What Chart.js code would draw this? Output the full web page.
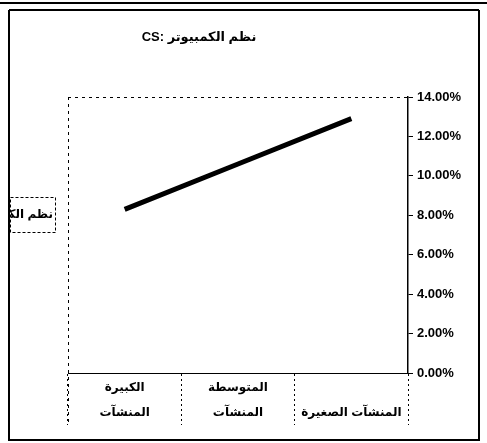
<!DOCTYPE html>
<html>
<head>
<meta charset="utf-8">
<script src="https://cdn.jsdelivr.net/npm/chart.js@4/dist/chart.umd.min.js"></script>
<style>
  html, body { margin: 0; padding: 0; background: #fff; }
  #wrap { position: relative; width: 487px; height: 443px; }
</style>
</head>
<body>
<div id="wrap"><canvas id="c" width="487" height="443"></canvas></div>
<script>
// ---- data ----
const chartTitlePrefix = 'CS:';
const seriesName = 'نظم الكمبيوتر';
const categories = ['المنشآت الصغيرة', 'المنشآت المتوسطة', 'المنشآت الكبيرة'];
const categoryLabelLines = [['', 'المنشآت الصغيرة'], ['المتوسطة', 'المنشآت'], ['الكبيرة', 'المنشآت']];
const seriesValues = [12.9, 10.6, 8.3];
const yTickMin = 0;
const yTickMax = 14;
const yTickStep = 2;

const FONT = "'Liberation Sans', Arial, 'DejaVu Sans', sans-serif";

const decor = {
  id: 'decor',
  afterDraw(chart) {
    const ctx = chart.ctx;
    const a = chart.chartArea;
    const xs = chart.scales.x;
    ctx.save();
    // outer frame
    ctx.strokeStyle = '#000';
    ctx.lineWidth = 2;
    ctx.beginPath();
    ctx.moveTo(0, 3); ctx.lineTo(487, 3);
    ctx.moveTo(9, 10); ctx.lineTo(479, 10);
    ctx.moveTo(9, 10); ctx.lineTo(9, 440);
    ctx.lineTo(479, 440);
    ctx.lineTo(479, 10);
    ctx.stroke();
    // plot area dashed top and left edges
    ctx.lineWidth = 1;
    ctx.setLineDash([3, 4]);
    ctx.beginPath();
    ctx.moveTo(a.left, a.top + 0.5); ctx.lineTo(a.right, a.top + 0.5);
    ctx.moveTo(a.left + 0.5, a.top); ctx.lineTo(a.left + 0.5, xs.bottom - 2);
    ctx.stroke();
    // legend box (text clipped as in reference)
    const lx = 10, ly = 197, lw = 45, lh = 35;
    ctx.setLineDash([3, 2]);
    ctx.strokeRect(lx + 0.5, ly + 0.5, lw, lh);
    ctx.setLineDash([]);
    ctx.beginPath();
    ctx.rect(lx + 1, ly + 1, lw - 1, lh - 1);
    ctx.clip();
    ctx.fillStyle = '#000';
    ctx.font = 'bold 12px ' + FONT;
    ctx.textAlign = 'right';
    ctx.textBaseline = 'middle';
    ctx.direction = 'rtl';
    ctx.fillText(seriesName, lx + lw - 2, ly + lh / 2);
    ctx.restore();
    // title: "CS:" on the left, Arabic series name on the right
    ctx.save();
    ctx.fillStyle = '#000';
    ctx.font = 'bold 13px ' + FONT;
    ctx.textBaseline = 'middle';
    ctx.direction = 'ltr';
    ctx.textAlign = 'left';
    const full = chartTitlePrefix + ' ' + seriesName;
    const w = ctx.measureText(chartTitlePrefix + ' ').width;
    const wa = ctx.measureText(seriesName).width;
    const x0 = 199 - (w + wa) / 2;
    ctx.fillText(chartTitlePrefix, x0, 37);
    ctx.direction = 'rtl';
    ctx.textAlign = 'right';
    ctx.fillText(seriesName, x0 + w + wa, 37);
    ctx.restore();
  }
};

new Chart(document.getElementById('c'), {
  type: 'line',
  data: {
    labels: categoryLabelLines,
    datasets: [{
      label: seriesName,
      data: seriesValues,
      borderColor: '#000',
      backgroundColor: '#000',
      borderWidth: 5,
      pointRadius: 0,
      tension: 0,
      fill: false
    }]
  },
  options: {
    responsive: false,
    animation: false,
    events: [],
    layout: { padding: { left: 68, top: 97, right: 0, bottom: 18 } },
    plugins: {
      legend: { display: false },
      title: { display: false },
      tooltip: { enabled: false }
    },
    scales: {
      x: {
        reverse: true,
        offset: true,
        afterFit(scale) { scale.height = 52; },
        border: { display: true, color: '#000', width: 1 },
        grid: {
          offset: true,
          drawOnChartArea: false,
          drawTicks: true,
          tickLength: 52,
          color: '#000',
          tickBorderDash: [2, 3],
          tickWidth: 1
        },
        ticks: {
          color: '#000',
          font: { family: FONT, size: 12, weight: 'bold', lineHeight: 2.1 },
          padding: -50,
          maxRotation: 0,
          autoSkip: false
        }
      },
      y: {
        position: 'right',
        min: yTickMin,
        max: yTickMax,
        afterFit(scale) { scale.width = 79; },
        border: { display: true, color: '#000', width: 1.5 },
        grid: {
          drawOnChartArea: false,
          drawTicks: true,
          tickLength: 5,
          color: '#000'
        },
        ticks: {
          stepSize: yTickStep,
          color: '#000',
          padding: 4,
          font: { family: FONT, size: 13, weight: 'bold' },
          callback: (v) => v.toFixed(2) + '%'
        }
      }
    }
  },
  plugins: [decor]
});
</script>
</body>
</html>
